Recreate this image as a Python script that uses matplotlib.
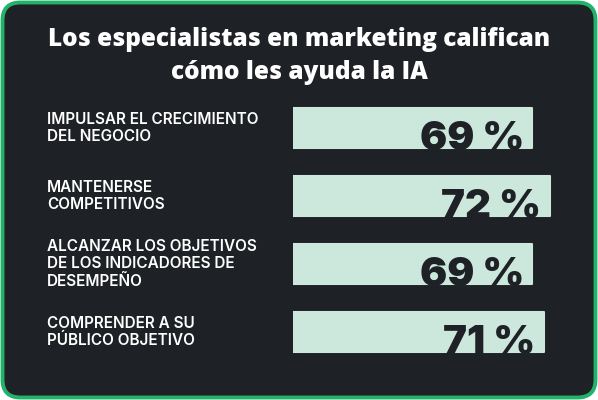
import matplotlib.pyplot as plt
from matplotlib.patches import FancyBboxPatch

title = 'Los especialistas en marketing califican\ncómo les ayuda la IA'
categories = [
    'IMPULSAR EL CRECIMIENTO\nDEL NEGOCIO',
    'MANTENERSE\nCOMPETITIVOS',
    'ALCANZAR LOS OBJETIVOS\nDE LOS INDICADORES DE\nDESEMPEÑO',
    'COMPRENDER A SU\nPÚBLICO OBJETIVO',
]
values = [69, 72, 69, 71]
value_labels = ['69 %', '72 %', '69 %', '71 %']

BG = '#1e2125'
GREEN = '#22b36b'
BAR = '#cce8dc'
base = 27  # bars are drawn from this value, as in the original graphic

W, H = 598, 400
fig = plt.figure(figsize=(W / 100, H / 100), dpi=100)
fig.patch.set_facecolor('white')

# rounded dark card with green border
card = FancyBboxPatch(
    (2.5 / W, 2.5 / H), 1 - 5 / W, 1 - 5 / H,
    boxstyle='round,pad=0,rounding_size=0.03',
    transform=fig.transFigure, facecolor=BG, edgecolor=GREEN,
    linewidth=2.8, mutation_aspect=W / H, zorder=-10,
)
fig.patches.append(card)

fig.text(0.5, 1 - 27 / H, title, ha='center', va='top', color='white',
         fontsize=17.6, fontweight=800, family='Open Sans',
         linespacing=1.4)

ax = fig.add_axes([293 / W, 40 / H, 282 / W, 260 / H])
ax.set_facecolor('none')
ypos = list(range(len(values)))
bars = ax.barh(ypos, [v - base for v in values], left=base, height=0.6,
               color=BAR, edgecolor=BAR, linewidth=1.5)
for b in bars:
    b.set_joinstyle('round')
ax.set_xlim(base, base + 282 / 5.7)
ax.set_ylim(3 + 28 / 68, -28 / 68)
ax.axis('off')

for y, v, lab in zip(ypos, values, value_labels):
    ax.annotate(lab, (v, y + 0.33), xytext=(-6, 0), textcoords='offset points',
                ha='right', va='baseline', color=BG, fontsize=29,
                fontweight=900, family=['Inter', 'Liberation Sans'],
                clip_on=False)

for y, cat in zip(ypos, categories):
    fig.text(47 / W, ax.transData.transform((0, y))[1] / H, cat,
             ha='left', va='center', color='white', fontsize=11,
             fontweight='semibold', family='Inter', linespacing=1.2)

fig.savefig('out.png', dpi=100, facecolor=fig.get_facecolor())
